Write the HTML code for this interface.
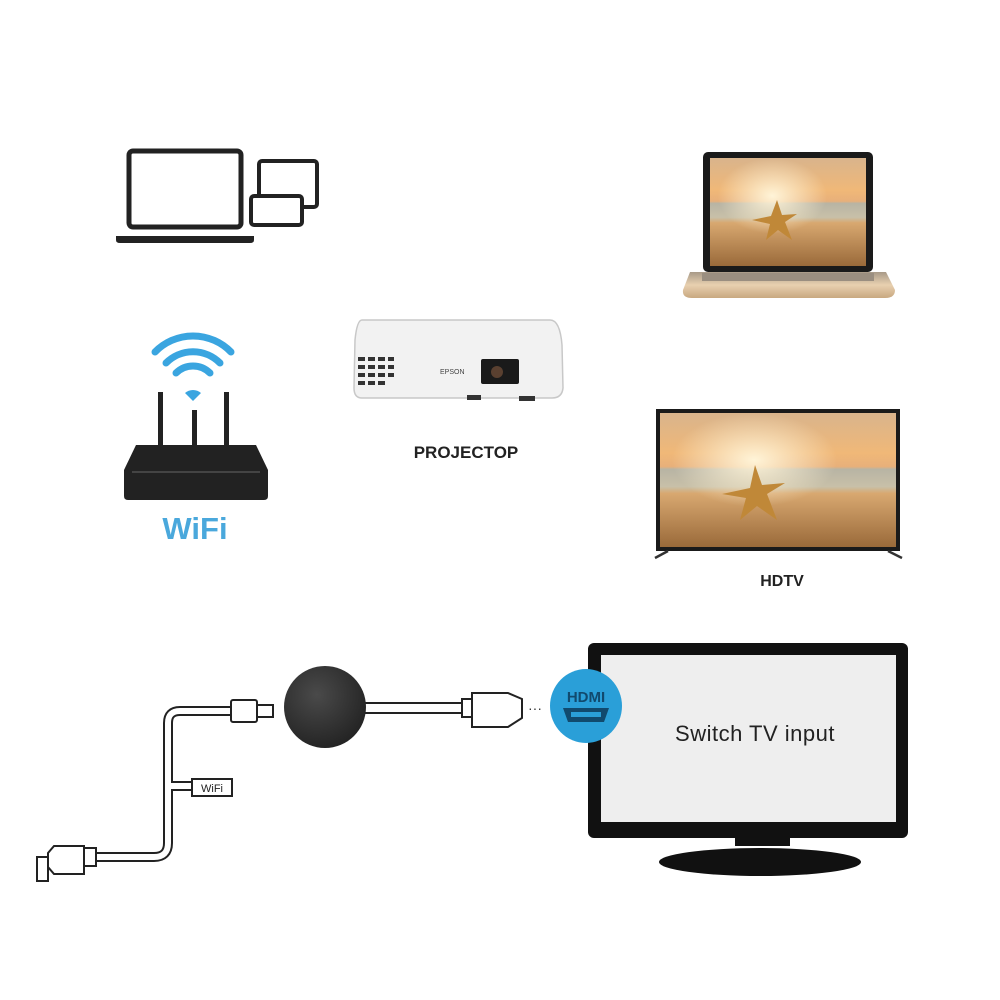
<!DOCTYPE html>
<html><head><meta charset="utf-8"><style>html,body{margin:0;padding:0;background:#fff}svg{display:block}</style></head>
<body>
<svg width="1000" height="1000" viewBox="0 0 1000 1000" xmlns="http://www.w3.org/2000/svg" font-family="Liberation Sans, sans-serif">
<defs>
<linearGradient id="beach" x1="0" y1="0" x2="0" y2="1">
<stop offset="0" stop-color="#d9b48c"/>
<stop offset="0.3" stop-color="#f0b878"/>
<stop offset="0.4" stop-color="#e8b07a"/>
<stop offset="0.42" stop-color="#b8b4a4"/>
<stop offset="0.55" stop-color="#c8c0a8"/>
<stop offset="0.6" stop-color="#d8a870"/>
<stop offset="1" stop-color="#9a6a3a"/>
</linearGradient>
<radialGradient id="sun" cx="0.4" cy="0.35" r="0.35">
<stop offset="0" stop-color="#fff4d8" stop-opacity="1"/>
<stop offset="1" stop-color="#fff4d8" stop-opacity="0"/>
</radialGradient>
<linearGradient id="gold" x1="0" y1="0" x2="0" y2="1">
<stop offset="0" stop-color="#a89a88"/><stop offset="0.5" stop-color="#e8d0b0"/><stop offset="1" stop-color="#c8a880"/>
</linearGradient>
<radialGradient id="dong" cx="0.4" cy="0.35" r="0.7">
<stop offset="0" stop-color="#4a4a4a"/><stop offset="1" stop-color="#222"/>
</radialGradient>
</defs>

<!-- top-left laptop + tablets -->
<rect x="129" y="151" width="112" height="76" rx="4" fill="#fff" stroke="#222" stroke-width="5"/>
<path d="M116 236 H254 V240 Q254 243 250 243 H120 Q116 243 116 240 Z" fill="#222"/>
<rect x="259" y="161" width="58" height="46" rx="3" fill="#fff" stroke="#222" stroke-width="4"/>
<rect x="251" y="196" width="51" height="29" rx="3" fill="#fff" stroke="#222" stroke-width="4"/>

<!-- router -->
<g fill="none" stroke="#3aa5e0" stroke-width="7" stroke-linecap="round">
<path d="M176 373 A24 24 0 0 1 210 373"/>
<path d="M166 363 A38 38 0 0 1 220 363"/>
<path d="M155 352 A53 53 0 0 1 231 352"/>
</g>
<path d="M185 393 L193 401 L201 393 A12 12 0 0 0 185 393 Z" fill="#3aa5e0"/>
<rect x="158" y="392" width="5" height="55" fill="#222"/>
<rect x="192" y="410" width="5" height="37" fill="#222"/>
<rect x="224" y="392" width="5" height="55" fill="#222"/>
<path d="M136 445 H256 L268 470 V496 Q268 500 264 500 H128 Q124 500 124 496 V470 Z" fill="#222"/>
<line x1="132" y1="472" x2="260" y2="472" stroke="#444" stroke-width="2"/>
<text x="195" y="539" text-anchor="middle" font-size="31" font-weight="bold" fill="#4aa8dc">WiFi</text>

<!-- projector -->
<path d="M362 320 H550 Q560 320 562 345 L563 388 Q562 398 552 398 H362 Q354 398 354 388 L355 340 Q357 320 362 320 Z" fill="#f2f2f2" stroke="#c8c8c8" stroke-width="1.5"/>
<g fill="#333">
<rect x="358" y="357" width="7" height="4"/><rect x="368" y="357" width="7" height="4"/><rect x="378" y="357" width="7" height="4"/><rect x="388" y="357" width="6" height="4"/>
<rect x="358" y="365" width="7" height="4"/><rect x="368" y="365" width="7" height="4"/><rect x="378" y="365" width="7" height="4"/><rect x="388" y="365" width="6" height="4"/>
<rect x="358" y="373" width="7" height="4"/><rect x="368" y="373" width="7" height="4"/><rect x="378" y="373" width="7" height="4"/><rect x="388" y="373" width="6" height="4"/>
<rect x="358" y="381" width="7" height="4"/><rect x="368" y="381" width="7" height="4"/><rect x="378" y="381" width="7" height="4"/>
</g>
<rect x="481" y="359" width="38" height="25" rx="2" fill="#1a1a1a"/>
<circle cx="497" cy="372" r="6" fill="#5a4030"/>
<text x="440" y="374" font-size="7" fill="#444">EPSON</text>
<rect x="467" y="395" width="14" height="5" fill="#333"/><rect x="519" y="396" width="16" height="5" fill="#333"/>
<text x="466" y="458" text-anchor="middle" font-size="17" font-weight="bold" fill="#222">PROJECTOP</text>

<!-- right laptop -->
<rect x="703" y="152" width="170" height="120" rx="5" fill="#1a1a1a"/>
<rect x="710" y="158" width="156" height="108" fill="url(#beach)"/>
<rect x="710" y="158" width="156" height="108" fill="url(#sun)"/>
<path d="M777 200 L782 215 L797 214 L785 222 L792 240 L778 230 L766 240 L770 224 L752 220 L771 216 Z" fill="#c08838"/>
<path d="M690 272 H886 L895 290 Q895 298 885 298 H692 Q682 298 683 290 Z" fill="url(#gold)"/>
<rect x="702" y="273" width="172" height="8" fill="#9a8e80"/>

<!-- HDTV -->
<rect x="656" y="409" width="244" height="142" fill="#1a1a1a"/>
<rect x="660" y="413" width="236" height="134" fill="url(#beach)"/>
<rect x="660" y="413" width="236" height="134" fill="url(#sun)"/>
<path d="M755 465 L762 485 L785 483 L767 494 L777 520 L757 506 L740 520 L746 498 L722 494 L750 488 Z" fill="#c08838"/>
<line x1="668" y1="551" x2="655" y2="558" stroke="#333" stroke-width="2.5"/>
<line x1="888" y1="551" x2="902" y2="558" stroke="#333" stroke-width="2.5"/>
<text x="782" y="586" text-anchor="middle" font-size="16" font-weight="bold" fill="#222">HDTV</text>

<!-- bottom TV -->
<rect x="588" y="643" width="320" height="195" rx="6" fill="#111"/>
<rect x="601" y="655" width="295" height="167" fill="#eeeeee"/>
<rect x="735" y="826" width="55" height="20" fill="#111"/>
<ellipse cx="760" cy="862" rx="101" ry="14" fill="#111"/>
<text x="755" y="741" text-anchor="middle" font-size="22" fill="#222" letter-spacing="0.5">Switch TV input</text>

<!-- HDMI badge -->
<ellipse cx="586" cy="706" rx="36" ry="37" fill="#2a9fd8"/>
<text x="586" y="702" text-anchor="middle" font-size="15" font-weight="bold" fill="#114a6e">HDMI</text>
<path d="M563 708 H609 L604 722 H568 Z" fill="#114a6e"/>
<rect x="571" y="712" width="30" height="5" fill="#2a9fd8"/>
<text x="528" y="713" font-size="14" fill="#333">···</text>

<!-- dongle and cable -->
<g fill="#fff" stroke="#222" stroke-width="2">
<rect x="362" y="703" width="105" height="10"/>
<rect x="462" y="699" width="10" height="18"/>
<path d="M472 693 H508 L522 699 V718 L508 727 H472 Z"/>
</g>
<circle cx="325" cy="707" r="41" fill="url(#dong)"/>

<!-- left cable (outlined) -->
<g fill="none" stroke-linejoin="round">
<g stroke="#222" stroke-width="10">
<path d="M236 711 H180 Q168 711 168 723 V843 Q168 857 154 857 H92"/>
<path d="M168 786 H195"/>
</g>
<g stroke="#fff" stroke-width="6">
<path d="M237 711 H180 Q168 711 168 723 V843 Q168 857 154 857 H91"/>
<path d="M168 786 H196"/>
</g>
</g>
<g fill="#fff" stroke="#222" stroke-width="2">
<rect x="192" y="779" width="40" height="17"/>
<rect x="231" y="700" width="26" height="22" rx="2"/>
<rect x="257" y="705" width="16" height="12"/>
<rect x="84" y="848" width="12" height="18"/>
<path d="M48 853 L54 846 H84 V874 H54 L48 867 Z"/>
<rect x="37" y="857" width="11" height="24"/>
</g>
<text x="212" y="792" text-anchor="middle" font-size="11" fill="#222">WiFi</text>
</svg>
</body></html>
